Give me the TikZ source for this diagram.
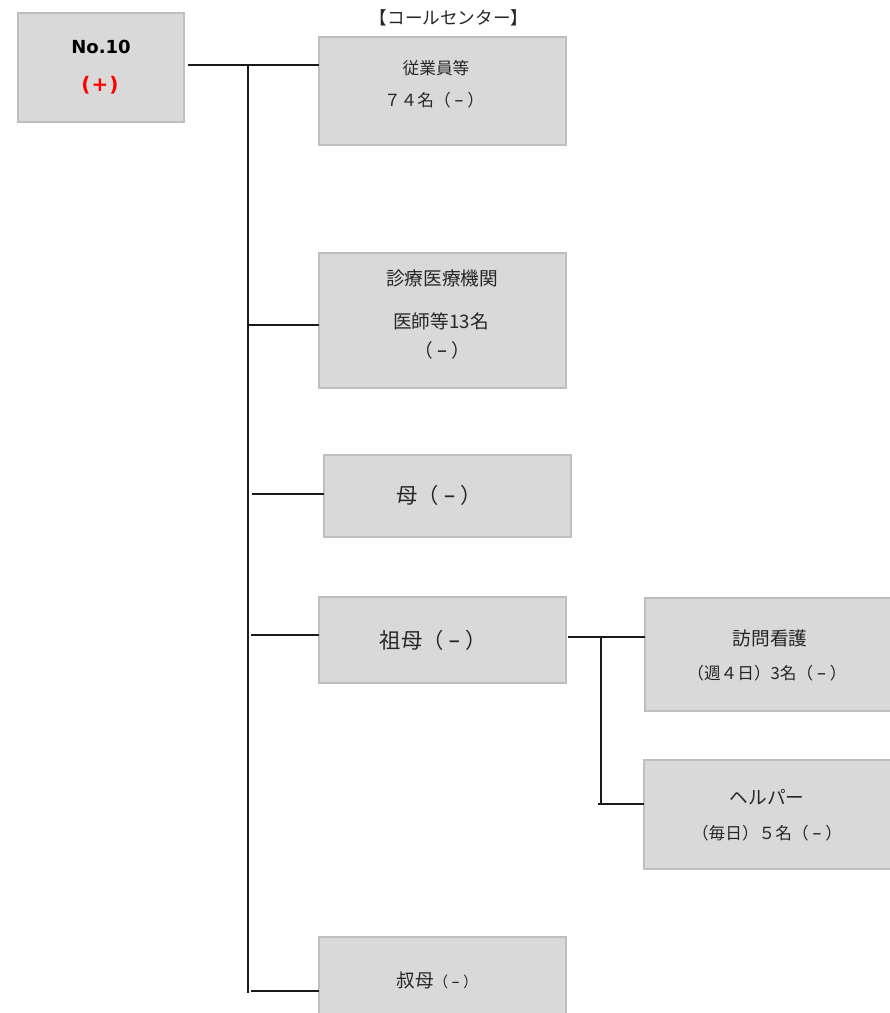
\documentclass[tikz,border=0pt]{standalone}
\usepackage{fontspec}
\usepackage{graphicx}
\setmainfont{Noto Sans CJK JP}
\newfontfamily\latinb{DejaVu Sans}
\usetikzlibrary{fit}
\definecolor{boxfill}{HTML}{D9D9D9}
\definecolor{boxline}{HTML}{BFBFBF}
\definecolor{linec}{HTML}{1A1A1A}
\definecolor{txt}{HTML}{262626}
\definecolor{plusred}{HTML}{FF0000}
\newcommand\fwneg{\makebox[1em]{（}\makebox[1em]{\scalebox{0.7}[1]{\latinb −}}\makebox[1em]{）}}
\begin{document}
\begin{tikzpicture}[x=0.75pt,y=-0.75pt,
  box/.style={draw=boxline, fill=boxfill, line width=0.9pt, inner sep=0pt, outer sep=0pt},
  conn/.style={draw=linec, line width=0.8pt},
  small/.style={font=\fontsize{12.5}{15}\selectfont, text=txt, inner sep=0pt},
  mid/.style={font=\fontsize{14}{17}\selectfont, text=txt, inner sep=0pt},
  big/.style={font=\fontsize{16}{19}\selectfont, text=txt, inner sep=0pt}]
\useasboundingbox (0,0) rectangle (889,1013);

% boxes
\node[box, fit={(18,13) (184,122)}] (A) {};
\node[box, fit={(319,37) (566,145)}] (B) {};
\node[box, fit={(319,253) (566,388)}] (C) {};
\node[box, fit={(324,455) (571,537)}] (D) {};
\node[box, fit={(319,597) (566,683)}] (E) {};
\node[box, fit={(645,598) (892,711)}] (F) {};
\node[box, fit={(644,760) (892,869)}] (G) {};
\node[box, fit={(319,937) (566,1020)}] (H) {};

% texts
\node[font=\latinb\bfseries\fontsize{13.5}{16}\selectfont, text=black, inner sep=0pt] (a1) at (101,47) {No.10};
\node[font=\latinb\bfseries\fontsize{15}{18}\selectfont, text=plusred, inner sep=0pt] (a2) at (100,85) {\makebox[0.55em]{(}\makebox[0.85em]{+}\makebox[0.55em]{)}};
\node[font=\fontsize{13.2}{16}\selectfont, text=txt, inner sep=0pt] (bt) at (449,18) {【コールセンター】};
\node[small] (b1) at (436,68) {従業員等};
\node[small] (b2) at (434,100) {７４名\fwneg};
\node[mid] (c1) at (442,278) {診療医療機関};
\node[mid] (c2) at (441,321) {医師等13名};
\node[mid] (c3) at (442,350) {\fwneg};
\node[big] (d1) at (439,495) {母\fwneg};
\node[big] (e1) at (433,640) {祖母\fwneg};
\node[mid] (f1) at (770,638) {訪問看護};
\node[small] (f2) at (767,673) {（週４日）3名\fwneg};
\node[mid] (g1) at (767,797) {ヘルパー};
\node[small] (g2) at (767,833) {（毎日）５名\fwneg};
\node[text=txt, inner sep=0pt] (h1) at (437,980) {\fontsize{14}{16}\selectfont 叔母\fontsize{11}{13}\selectfont\fwneg};

% connectors
\coordinate (jA) at (188,65);
\coordinate (tTop) at (248,65);
\coordinate (tBot) at (248,993);
\draw[conn] (jA) -- (jA -| B.west);
\draw[conn] (tTop) -- (tBot);
\coordinate (jC) at (249,325);
\draw[conn] (jC) -- (jC -| C.west);
\coordinate (jD) at (252,494);
\draw[conn] (jD) -- (jD -| D.west);
\coordinate (jE) at (251,635);
\draw[conn] (jE) -- (jE -| E.west);
\coordinate (jH) at (251,991);
\draw[conn] (jH) -- (jH -| H.west);
% sub tree
\coordinate (sE) at (568,637);
\draw[conn] (sE) -- (sE -| F.west);
\coordinate (sTop) at (601,637);
\coordinate (sBot) at (601,804);
\draw[conn] (sTop) -- (sBot);
\coordinate (jG) at (598,804);
\draw[conn] (jG) -- (jG -| G.west);
\end{tikzpicture}
\end{document}
